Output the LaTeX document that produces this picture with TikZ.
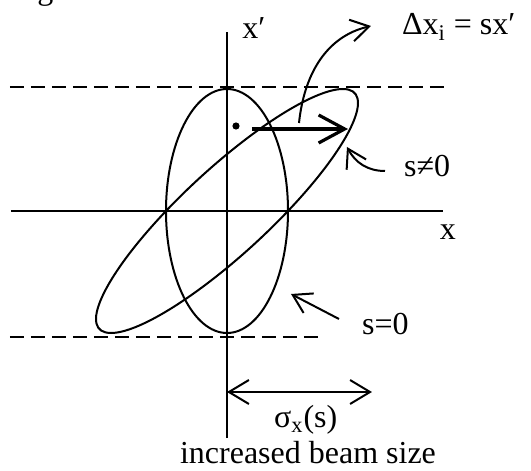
\documentclass[tikz,border=0pt]{standalone}
\usepackage{fontspec}
\setmainfont{Liberation Serif}
\usetikzlibrary{arrows.meta}

\begin{document}
\begin{tikzpicture}[x=0.5pt,y=0.5pt,font=\fontsize{16}{19}\selectfont,
    axis/.style={line width=1.3pt},
    level/.style={line width=1pt,dash pattern=on 7pt off 3.5pt},
    orbit/.style={line width=1pt},
    pointer/.style={line width=1pt,-{Straight Barb[length=9pt,width=11pt]}}]

    \useasboundingbox (-227,-260) rectangle (304,211);

    \def\rx{61}
    \def\ry{122}

    % axes
    \coordinate (xl) at (-216,0);
    \coordinate (xr) at (216,0);
    \coordinate (yb) at (0,-227);
    \coordinate (yt) at (0,179);
    \draw[axis] (xl) -- (xr);
    \draw[axis] (yb) -- (yt);
    \draw (221,-29) node[anchor=base] (xlab) {x};
    \draw (27,183) node[] (xplab) {x′};

    % beam envelope
    \coordinate (tl) at (-217,124);
    \coordinate (tr) at (217,124);
    \coordinate (bl) at (-217,-126);
    \coordinate (br) at (96,-126);
    \draw[level] (tl) -- (tr);
    \draw[level] (bl) -- (br);

    % phase space ellipses
    \draw[orbit] (0,0) ellipse [x radius=\rx, y radius=\ry];
    \draw[orbit,xslant=0.95] (0,0) ellipse [x radius=\rx, y radius=\ry];

    % kick of one particle
    \fill (9,85) circle (1.8pt);
    \coordinate (ks) at (25,82);
    \coordinate (ke) at (121,82);
    \draw[line width=1.6pt,-{Straight Barb[length=13pt,width=14pt]}] (ks) -- (ke);

    \draw (168,176) node[anchor=base west] (dx) {Δx\textsubscript{i} = sx′};
    \coordinate (ds) at (72,88);
    \coordinate (dt) at (144,185);
    \draw[pointer] (ds) to[out=84,in=193] (dt);

    \draw (170,34) node[anchor=base west] (sne) {s≠0};
    \coordinate (snes) at (158,40);
    \coordinate (snet) at (120,64);
    \draw[pointer] (snes) to[out=180,in=-62] (snet);

    \draw (128,-124) node[anchor=base west] (seq) {s=0};
    \coordinate (seqs) at (112,-108);
    \coordinate (seqt) at (64,-83);
    \draw[pointer] (seqs) -- (seqt);

    % beam size
    \coordinate (sl) at (0,-181);
    \coordinate (sr) at (145,-181);
    \draw[line width=1pt,{Straight Barb[length=10pt,width=12pt]}-{Straight Barb[length=10pt,width=12pt]}] (sl) -- (sr);
    \draw (40,-216) node[anchor=base west] (sig) {σ\textsubscript{x}(s)};
    \draw (81,-252) node[anchor=base] (incr) {increased beam size};

    \draw (-190,211) node[anchor=base west,inner sep=0pt] (fig) {g};

\end{tikzpicture}
\end{document}
